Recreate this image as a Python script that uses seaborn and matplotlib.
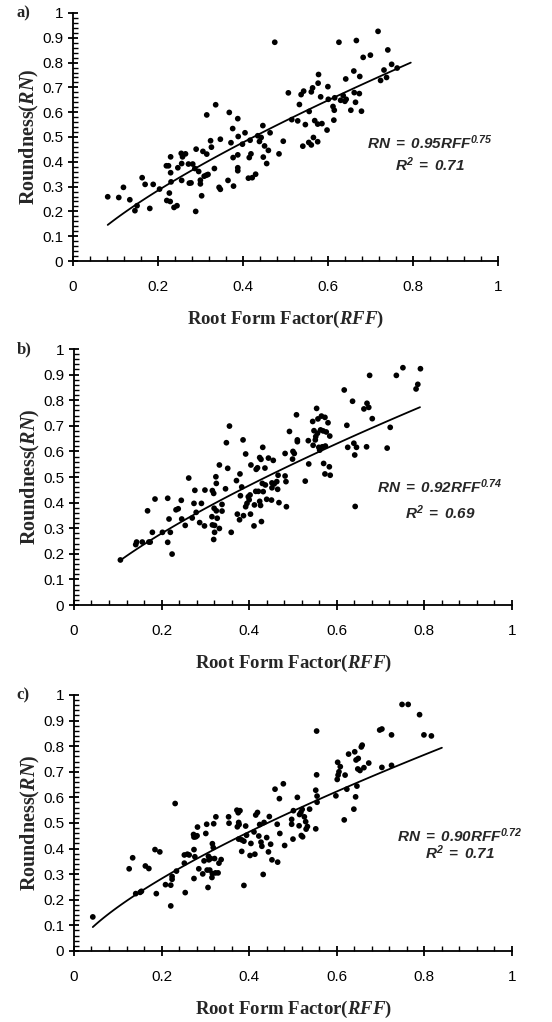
import numpy as np
import pandas as pd
import matplotlib
matplotlib.use('Agg')
import matplotlib.pyplot as plt
import seaborn as sns
from matplotlib.ticker import MultipleLocator

sns.set_style('ticks')
plt.rcParams['font.family'] = ['Liberation Sans', 'DejaVu Sans']
plt.rcParams['mathtext.fontset'] = 'custom'
plt.rcParams['mathtext.rm'] = 'Liberation Serif:bold'
plt.rcParams['mathtext.it'] = 'Liberation Serif:bold:italic'
plt.rcParams['mathtext.sf'] = 'Liberation Sans:bold:italic'
plt.rcParams.update({
    'axes.linewidth': 1.3, 'axes.edgecolor': 'black',
    'xtick.bottom': True, 'ytick.left': True,
    'xtick.color': 'black', 'ytick.color': 'black',
    'xtick.major.size': 7, 'ytick.major.size': 7,
    'xtick.major.width': 1.3, 'ytick.major.width': 1.3,
    'xtick.minor.size': 4, 'ytick.minor.size': 3,
    'xtick.minor.width': 1.0, 'ytick.minor.width': 1.0,
})

# Panel a) data (RFF, RN)
rff_a = [0.082, 0.108, 0.119, 0.134, 0.146, 0.151, 0.163, 0.170, 0.181, 0.189,
         0.204, 0.220, 0.221, 0.225, 0.227, 0.229, 0.230, 0.230, 0.231, 0.238,
         0.245, 0.247, 0.255, 0.256, 0.256, 0.258, 0.265, 0.272, 0.274, 0.278,
         0.282, 0.289, 0.290, 0.287, 0.296, 0.300, 0.300, 0.303, 0.306, 0.309,
         0.314, 0.315, 0.315, 0.318, 0.324, 0.326, 0.333, 0.336, 0.344, 0.347,
         0.347, 0.365, 0.368, 0.372, 0.376, 0.377, 0.378, 0.388, 0.389, 0.388,
         0.388, 0.388, 0.399, 0.405, 0.413, 0.415, 0.417, 0.419, 0.422, 0.430,
         0.435, 0.439, 0.443, 0.447, 0.448, 0.451, 0.456, 0.460, 0.464, 0.475,
         0.485, 0.495, 0.507, 0.515, 0.529, 0.533, 0.537, 0.541, 0.543, 0.547,
         0.555, 0.556, 0.561, 0.561, 0.564, 0.566, 0.569, 0.576, 0.576, 0.577,
         0.578, 0.583, 0.586, 0.598, 0.600, 0.601, 0.612, 0.614, 0.615, 0.616,
         0.626, 0.630, 0.636, 0.642, 0.640, 0.643, 0.654, 0.661, 0.662, 0.665,
         0.667, 0.674, 0.675, 0.679, 0.683, 0.700, 0.718, 0.724, 0.732, 0.738,
         0.741, 0.750, 0.763]
rn_a = [0.259, 0.256, 0.297, 0.247, 0.203, 0.223, 0.336, 0.309, 0.212, 0.309,
        0.290, 0.384, 0.244, 0.384, 0.274, 0.240, 0.420, 0.356, 0.319, 0.216,
        0.223, 0.376, 0.434, 0.325, 0.393, 0.420, 0.432, 0.391, 0.314, 0.315,
        0.391, 0.200, 0.451, 0.373, 0.361, 0.311, 0.326, 0.263, 0.442, 0.342,
        0.346, 0.589, 0.431, 0.349, 0.485, 0.459, 0.373, 0.630, 0.297, 0.289,
        0.491, 0.325, 0.599, 0.477, 0.534, 0.417, 0.302, 0.574, 0.502, 0.428,
        0.376, 0.364, 0.471, 0.517, 0.334, 0.417, 0.487, 0.432, 0.336, 0.350,
        0.505, 0.482, 0.498, 0.546, 0.419, 0.464, 0.393, 0.446, 0.517, 0.882,
        0.432, 0.483, 0.678, 0.570, 0.565, 0.631, 0.671, 0.463, 0.685, 0.550,
        0.478, 0.603, 0.468, 0.682, 0.698, 0.498, 0.566, 0.552, 0.481, 0.717,
        0.752, 0.662, 0.554, 0.528, 0.703, 0.652, 0.623, 0.568, 0.608, 0.658,
        0.882, 0.648, 0.667, 0.734, 0.644, 0.652, 0.608, 0.766, 0.679, 0.640,
        0.889, 0.675, 0.744, 0.604, 0.821, 0.830, 0.926, 0.728, 0.770, 0.740,
        0.851, 0.793, 0.778]

# Panel b) data
rff_b = [0.106, 0.141, 0.143, 0.156, 0.168, 0.171, 0.174, 0.179, 0.185, 0.202,
         0.214, 0.214, 0.217, 0.220, 0.224, 0.233, 0.238, 0.245, 0.246, 0.254,
         0.262, 0.270, 0.274, 0.276, 0.279, 0.287, 0.291, 0.298, 0.299, 0.315,
         0.316, 0.316, 0.319, 0.319, 0.320, 0.321, 0.321, 0.324, 0.325, 0.325,
         0.327, 0.332, 0.332, 0.338, 0.338, 0.346, 0.348, 0.351, 0.355, 0.359,
         0.371, 0.373, 0.378, 0.379, 0.380, 0.383, 0.386, 0.387, 0.392, 0.392,
         0.395, 0.398, 0.400, 0.402, 0.403, 0.404, 0.411, 0.412, 0.415, 0.416,
         0.419, 0.421, 0.424, 0.424, 0.426, 0.427, 0.428, 0.430, 0.431, 0.432,
         0.436, 0.437, 0.440, 0.444, 0.451, 0.452, 0.452, 0.455, 0.457, 0.463,
         0.465, 0.466, 0.468, 0.482, 0.482, 0.484, 0.485, 0.492, 0.499, 0.500,
         0.503, 0.508, 0.510, 0.510, 0.528, 0.535, 0.536, 0.545, 0.546, 0.548,
         0.551, 0.552, 0.554, 0.556, 0.557, 0.559, 0.561, 0.563, 0.565, 0.567,
         0.569, 0.570, 0.573, 0.573, 0.574, 0.576, 0.580, 0.583, 0.584, 0.585,
         0.617, 0.623, 0.625, 0.636, 0.639, 0.641, 0.642, 0.645, 0.662, 0.668,
         0.669, 0.673, 0.675, 0.681, 0.715, 0.722, 0.736, 0.751, 0.781, 0.785,
         0.791]
rn_b = [0.176, 0.236, 0.246, 0.246, 0.368, 0.246, 0.246, 0.284, 0.414, 0.284,
        0.417, 0.245, 0.336, 0.284, 0.199, 0.372, 0.376, 0.409, 0.336, 0.311,
        0.496, 0.340, 0.397, 0.448, 0.362, 0.322, 0.397, 0.309, 0.449, 0.345,
        0.447, 0.313, 0.436, 0.256, 0.378, 0.311, 0.284, 0.501, 0.475, 0.368,
        0.339, 0.299, 0.547, 0.393, 0.367, 0.454, 0.634, 0.534, 0.699, 0.284,
        0.486, 0.355, 0.333, 0.512, 0.427, 0.461, 0.645, 0.349, 0.590, 0.384,
        0.397, 0.423, 0.411, 0.430, 0.355, 0.547, 0.309, 0.391, 0.444, 0.530,
        0.536, 0.444, 0.405, 0.576, 0.389, 0.569, 0.326, 0.475, 0.616, 0.443,
        0.535, 0.469, 0.413, 0.574, 0.410, 0.458, 0.477, 0.565, 0.473, 0.482,
        0.452, 0.507, 0.400, 0.592, 0.504, 0.482, 0.384, 0.678, 0.570, 0.600,
        0.592, 0.743, 0.645, 0.638, 0.484, 0.642, 0.551, 0.717, 0.624, 0.681,
        0.645, 0.658, 0.768, 0.671, 0.727, 0.616, 0.605, 0.684, 0.738, 0.618,
        0.680, 0.553, 0.512, 0.733, 0.621, 0.676, 0.712, 0.540, 0.660, 0.507,
        0.840, 0.702, 0.616, 0.796, 0.632, 0.586, 0.385, 0.616, 0.766, 0.618,
        0.788, 0.772, 0.897, 0.728, 0.613, 0.694, 0.897, 0.927, 0.844, 0.862,
        0.923]

# Panel c) data
rff_c = [0.043, 0.126, 0.134, 0.141, 0.151, 0.154, 0.163, 0.171, 0.185, 0.188,
         0.196, 0.209, 0.221, 0.221, 0.224, 0.224, 0.231, 0.234, 0.252, 0.252,
         0.254, 0.259, 0.263, 0.273, 0.274, 0.274, 0.274, 0.276, 0.278, 0.281,
         0.282, 0.285, 0.294, 0.297, 0.301, 0.303, 0.304, 0.306, 0.307, 0.308,
         0.310, 0.312, 0.315, 0.316, 0.316, 0.318, 0.319, 0.321, 0.323, 0.324,
         0.329, 0.331, 0.336, 0.353, 0.354, 0.372, 0.373, 0.375, 0.376, 0.376,
         0.377, 0.379, 0.383, 0.383, 0.388, 0.388, 0.392, 0.394, 0.402, 0.404,
         0.411, 0.413, 0.415, 0.419, 0.422, 0.424, 0.427, 0.429, 0.432, 0.434,
         0.440, 0.444, 0.446, 0.449, 0.452, 0.459, 0.464, 0.465, 0.469, 0.470,
         0.478, 0.481, 0.497, 0.497, 0.500, 0.501, 0.510, 0.514, 0.515, 0.518,
         0.519, 0.521, 0.522, 0.526, 0.529, 0.530, 0.533, 0.538, 0.552, 0.552,
         0.554, 0.554, 0.555, 0.555, 0.598, 0.601, 0.602, 0.603, 0.605, 0.608,
         0.617, 0.619, 0.623, 0.627, 0.639, 0.641, 0.643, 0.644, 0.646, 0.648,
         0.649, 0.653, 0.656, 0.658, 0.662, 0.673, 0.698, 0.703, 0.703, 0.725,
         0.725, 0.749, 0.763, 0.789, 0.799, 0.816]
rn_c = [0.133, 0.321, 0.364, 0.224, 0.229, 0.233, 0.332, 0.322, 0.396, 0.224,
        0.387, 0.259, 0.176, 0.257, 0.280, 0.291, 0.576, 0.312, 0.343, 0.375,
        0.228, 0.378, 0.375, 0.455, 0.283, 0.396, 0.445, 0.368, 0.446, 0.450,
        0.484, 0.321, 0.301, 0.352, 0.459, 0.495, 0.316, 0.248, 0.370, 0.356,
        0.316, 0.361, 0.287, 0.302, 0.419, 0.404, 0.497, 0.361, 0.305, 0.524,
        0.305, 0.343, 0.357, 0.524, 0.499, 0.550, 0.485, 0.540, 0.502, 0.437,
        0.494, 0.548, 0.434, 0.389, 0.429, 0.256, 0.488, 0.452, 0.373, 0.420,
        0.465, 0.378, 0.531, 0.541, 0.449, 0.494, 0.425, 0.409, 0.299, 0.502,
        0.443, 0.387, 0.525, 0.417, 0.356, 0.632, 0.495, 0.347, 0.595, 0.459,
        0.653, 0.412, 0.495, 0.514, 0.437, 0.548, 0.600, 0.489, 0.533, 0.541,
        0.451, 0.553, 0.446, 0.524, 0.505, 0.476, 0.486, 0.554, 0.477, 0.628,
        0.859, 0.688, 0.605, 0.581, 0.606, 0.670, 0.737, 0.687, 0.700, 0.720,
        0.512, 0.687, 0.632, 0.769, 0.554, 0.778, 0.602, 0.746, 0.644, 0.711,
        0.752, 0.705, 0.797, 0.804, 0.716, 0.734, 0.863, 0.867, 0.717, 0.844,
        0.725, 0.963, 0.963, 0.923, 0.844, 0.840]

# fitted power laws RN = a * RFF^b, with the x range each curve covers
fits = [(0.95, 0.75, '0.71', 0.082, 0.795),
        (0.92, 0.74, '0.69', 0.106, 0.790),
        (0.90, 0.72, '0.71', 0.043, 0.840)]
panel_labels = ['a)', 'b)', 'c)']
eq_pos = [(0.84, 0.476, 0.387), (0.836, 0.462, 0.36), (0.881, 0.45, 0.384)]

fig = plt.figure(figsize=(5.52, 10.22), dpi=100)
axes = [fig.add_axes([0.132, 0.7446, 0.770, 0.2427]),
        fig.add_axes([0.134, 0.408, 0.7935, 0.2505]),
        fig.add_axes([0.134, 0.0695, 0.7935, 0.2505])]

data = [(rff_a, rn_a), (rff_b, rn_b), (rff_c, rn_c)]

for i, ax in enumerate(axes):
    x, y = data[i]
    df = pd.DataFrame({'RFF': x, 'RN': y})
    sns.scatterplot(data=df, x='RFF', y='RN', ax=ax, color='black', s=17,
                    edgecolor='none', zorder=3)
    a, b, r2, x0, x1 = fits[i]
    xf = np.linspace(x0, x1, 100)
    # fitted curve drawn directly on the axes
    ax.plot(xf, a * xf ** b, color='black', linewidth=1.3)

    ax.set_xlim(0, 1)
    ax.set_ylim(0, 1)
    for side in ['top', 'right']:
        ax.spines[side].set_visible(False)

    ax.xaxis.set_major_locator(MultipleLocator(0.2))
    ax.xaxis.set_minor_locator(MultipleLocator(0.04))
    ax.yaxis.set_major_locator(MultipleLocator(0.1))
    ax.yaxis.set_minor_locator(MultipleLocator(0.02))
    ax.xaxis.set_major_formatter(plt.FuncFormatter(lambda v, p: f'{v:g}'))
    ax.yaxis.set_major_formatter(plt.FuncFormatter(lambda v, p: f'{v:g}'))
    ax.tick_params(which='major', labelsize=11, color='black', length=7,
                   width=1.3, direction='inout')
    ax.tick_params(which='minor', direction='in', length=3.5, width=1.0,
                   color='black')
    ax.tick_params(axis='x', which='major', pad=10)
    ax.tick_params(axis='y', which='major', pad=3.5)

    ax.set_xlabel('Root Form Factor($\\mathit{RFF}$)', family='Liberation Serif',
                  fontweight='bold', fontsize=13.5, labelpad=11)
    ax.set_ylabel('Roundness($\\mathit{RN}$)', family='Liberation Serif',
                  fontweight='bold', fontsize=14.5, labelpad=1)

    ex, ey1, ey2 = eq_pos[i]
    ax.text(ex, ey1, '$\\mathsf{RN\\ =\\ %.2fRFF^{%.2f}}$' % (a, b), ha='center',
            va='center', fontsize=11)
    ax.text(ex, ey2, '$\\mathsf{R^{2}\\ =\\ %s}$' % r2, ha='center', va='center',
            fontsize=11)

    bb = ax.get_position()
    fig.text(0.03, bb.y1, panel_labels[i], family='Liberation Serif',
             fontweight='bold', fontsize=12, va='center', ha='left')

fig.savefig('out.png', dpi=100)
